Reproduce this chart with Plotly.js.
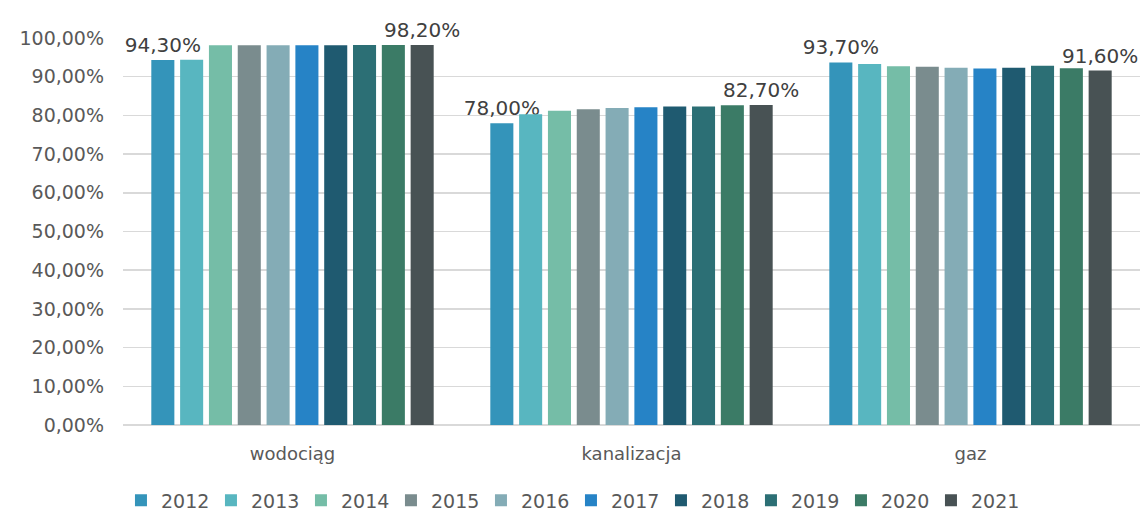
<!DOCTYPE html>
<html><head><meta charset="utf-8">
<script src="https://cdn.plot.ly/plotly-3.0.1.min.js"></script>
<style>html,body{margin:0;padding:0;background:#fff}#c{width:1147px;height:513px}</style>
</head><body><div id="c"></div>
<script>
var categories = ['wodociąg', 'kanalizacja', 'gaz'];
var years = ['2012','2013','2014','2015','2016','2017','2018','2019','2020','2021'];
var v2012 = [94.3, 78.0, 93.7];
var v2013 = [94.4, 80.3, 93.3];
var v2014 = [98.1, 81.2, 92.7];
var v2015 = [98.1, 81.6, 92.6];
var v2016 = [98.1, 81.9, 92.3];
var v2017 = [98.1, 82.1, 92.1];
var v2018 = [98.1, 82.3, 92.3];
var v2019 = [98.2, 82.3, 92.8];
var v2020 = [98.2, 82.6, 92.2];
var v2021 = [98.2, 82.7, 91.6];
var seriesValues = [v2012, v2013, v2014, v2015, v2016, v2017, v2018, v2019, v2020, v2021];
var colors = ['#3494BA','#58B6C0','#75BDA7','#7A8C8E','#84ACB6','#2683C6','#1F5A70','#2C6F75','#3B7B66','#485254'];
var yTickVals = [0,10,20,30,40,50,60,70,80,90,100];
var yTickText = ['0,00%','10,00%','20,00%','30,00%','40,00%','50,00%','60,00%','70,00%','80,00%','90,00%','100,00%'];
var labeledSeries = [0, 9];

function fmt(v){ return v.toFixed(2).replace('.', ',') + '%'; }

var font = 'DejaVu Sans, sans-serif';
var txtColor = '#595959';
var traces = years.map(function(y, i){
  var show = labeledSeries.indexOf(i) >= 0;
  return {
    type: 'bar', name: y, x: categories, y: seriesValues[i],
    marker: {color: colors[i]},
    text: show ? seriesValues[i].map(fmt) : seriesValues[i].map(function(){return '';}),
    textposition: show ? 'outside' : 'none',
    textfont: {family: font, size: 20, color: '#404040'},
    cliponaxis: false, constraintext: 'none',
    hoverinfo: 'x+y'
  };
});

var layout = {
  width: 1147, height: 513,
  margin: {l: 123, r: 7, t: 38, b: 88, autoexpand: false},
  paper_bgcolor: '#fff', plot_bgcolor: '#fff',
  barmode: 'group', bargap: 0.15, bargroupgap: 0.2,
  font: {family: font, color: txtColor},
  xaxis: {type: 'category', showgrid: false, showline: false, ticks: '', automargin: false,
    tickfont: {family: font, size: 18, color: txtColor}, ticklabelstandoff: 16},
  yaxis: {range: [0, 100], tickvals: yTickVals, ticktext: yTickText, automargin: false,
    showgrid: true, gridcolor: '#D9D9D9', gridwidth: 1.5, zeroline: true, zerolinecolor: '#D9D9D9', zerolinewidth: 1.5,
    showline: false, tickfont: {family: font, size: 19, color: txtColor}, ticks: '', ticklabelstandoff: 18},
  legend: {orientation: 'h', x: -0.002, xanchor: 'left', y: -0.195, yanchor: 'middle',
    font: {family: font, size: 19, color: txtColor}, itemwidth: 30, traceorder: 'normal',
    entrywidth: 45, entrywidthmode: 'pixels'},
  showlegend: true
};
Plotly.newPlot('c', traces, layout, {displayModeBar: false, staticPlot: true});
</script>
</body></html>
